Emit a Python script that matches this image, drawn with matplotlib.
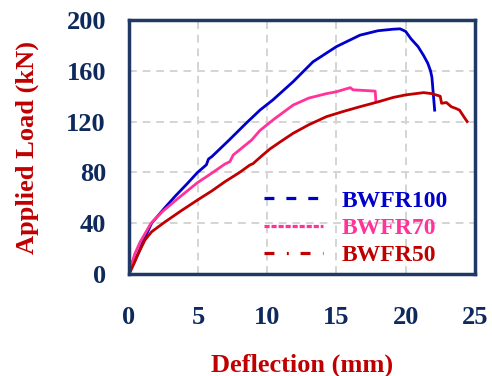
import numpy as np
import matplotlib.pyplot as plt
from matplotlib.lines import Line2D

# BWFR100
x100 = [0, 0.3, 0.67, 1.0, 1.64, 2.5, 3.32, 4.2, 4.96, 5.6, 5.75, 6.0, 7.2, 8.5, 9.47,
        10.4, 11.87, 13.3, 15.0, 16.7, 18.0, 19.1, 19.6, 20.0, 20.4, 20.9, 21.3, 21.6,
        21.8, 21.9, 22.0, 22.1]
y100 = [0, 8, 16, 25, 40, 51, 61, 71, 80, 86, 90.5, 92.5, 105, 119, 129,
        137, 151.4, 167, 179, 188, 191.5, 192.7, 193, 191, 185, 179, 172, 166,
        160, 155, 142, 129]

# BWFR70
x70 = [0, 0.2, 0.43, 0.8, 1.6, 2.4, 3.32, 4.96, 6.0, 6.94, 7.3, 7.54, 8.87, 9.47,
       10.5, 11.87, 13.0, 14.28, 15.0, 16.0, 16.2, 17.0, 17.8, 17.85]
y70 = [0, 8, 16, 25, 40, 49, 57.5, 72, 79.5, 86.6, 88.5, 93.7, 105.5, 113,
       122, 133, 138.5, 142, 143.5, 146.7, 145, 144.5, 144, 136.5]

# BWFR50
x50 = [0, 0.1, 0.4, 0.67, 0.92, 1.16, 1.64, 2.6, 3.8, 4.96, 6.0, 6.94, 8.0, 8.74, 8.98,
       9.6, 10.2, 11.0, 11.87, 13.0, 14.28, 15.5, 16.7, 18.0, 19.1, 20.0, 21.3, 21.9,
       22.5, 22.6, 22.95, 23.3, 23.6, 23.9, 24.2, 24.45]
y50 = [0, 2, 9, 16, 21.5, 26.8, 33.3, 41, 50, 58.3, 65.5, 72.7, 80, 85.8, 87,
       93, 98.5, 104.5, 110.8, 117.5, 123.9, 128, 131.7, 135.5, 139, 141, 142.8, 142,
       140, 134.4, 135, 131.7, 130.5, 129, 124, 120]

navy = '#1f3864'
tick_col = '#0e2a5c'
red = '#c00000'
blue = '#0000cc'
pink = '#ff3399'

plt.rcParams['font.family'] = 'Liberation Serif'
plt.rcParams['font.weight'] = 'bold'

fig = plt.figure(figsize=(4.92, 3.76), dpi=100)
ax = fig.add_axes([0.262, 0.271, 0.703, 0.676])

ax.plot(x100, y100, color=blue, lw=2.0)
ax.plot(x70, y70, color=pink, lw=2.0)
ax.plot(x50, y50, color=red, lw=2.0)

ax.set_xlim(0, 25)
ax.set_ylim(0, 200)
ax.set_xticks(np.arange(0, 26, 5))
ax.set_yticks(np.arange(0, 201, 40))
ax.grid(True, color='#d4d4d4', ls=(0, (4, 3)), lw=1.4)
ax.set_axisbelow(True)
for s in ax.spines.values():
    s.set_color(navy)
    s.set_linewidth(2.5)
ax.tick_params(length=0, labelsize=19, labelcolor=tick_col)
ax.tick_params(axis='x', pad=23)
ax.tick_params(axis='y', pad=16.5)
for lab in ax.get_xticklabels() + ax.get_yticklabels():
    lab.set_fontweight('bold')

ax.set_xlabel('Deflection (mm)', fontsize=19, fontweight='bold', color=red, labelpad=18)
ax.set_ylabel('Applied Load (kN)', fontsize=19, fontweight='bold', color=red, labelpad=20)

handles = [Line2D([], [], color=blue, lw=2.3, ls=(0, (3.1, 3.75))),
           Line2D([], [], color=pink, lw=2.3, ls=(0, (1.6, 0.6))),
           Line2D([], [], color=red, lw=2.3, ls=(0, (3.1, 3.9, 0.6, 3.7)))]
leg = ax.legend(handles, ['BWFR100', 'BWFR70', 'BWFR50'], loc='lower left',
                bbox_to_anchor=(0.356, -0.016), frameon=False, fontsize=17,
                handlelength=2.5, handletextpad=0.8, labelspacing=0.25, borderpad=0)
for t, c in zip(leg.get_texts(), [blue, pink, red]):
    t.set_color(c)
    t.set_fontweight('bold')

fig.savefig('out.png', dpi=100)
